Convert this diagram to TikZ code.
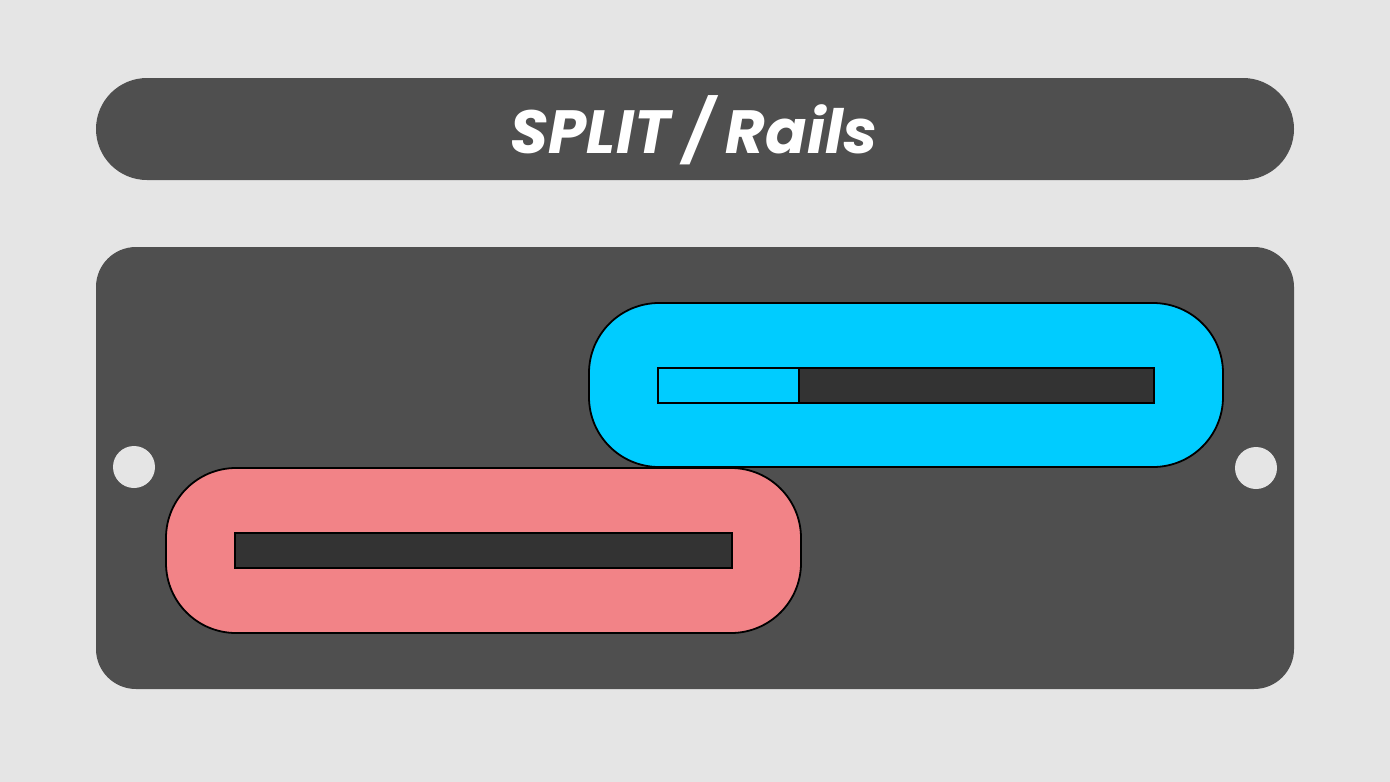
\documentclass[tikz,border=0pt]{standalone}
\usepackage{fontspec}
\setmainfont{Poppins}
\definecolor{bg}{HTML}{E5E5E5}
\definecolor{panel}{HTML}{4F4F4F}
\definecolor{slot}{HTML}{333333}
\definecolor{cyanrail}{HTML}{00CCFF}
\definecolor{redrail}{HTML}{F28387}
\begin{document}
\begin{tikzpicture}[x=1pt,y=-1pt,
  plate/.style={fill=panel,draw=none},
  rail/.style={draw=black,line width=1.8pt},
  slotbar/.style={draw=black,line width=1.8pt,fill=slot},
  hole/.style={fill=bg,draw=none}]
\fill[bg] (0,0) rectangle (1390,782);
\useasboundingbox (0,0) rectangle (1390,782);
% title
\fill[plate,rounded corners=51pt] (96,78) rectangle (1294,180);
\node (title) at (694,130) {\fontsize{61}{64}\selectfont\bfseries\itshape\color{white}SPLIT / Rails};
% panel
\fill[plate,rounded corners=40pt] (96,247) rectangle (1294,689);
\fill[hole] (134,467) circle (21);
\fill[hole] (1256,468) circle (21);
% blue rail
\filldraw[rail,fill=cyanrail,rounded corners=70pt] (589,303) rectangle (1223,467);
\fill[slot] (799,368) rectangle (1154,403);
\draw[line width=1.8pt,fill=cyanrail] (658,368) rectangle (799,403);
\draw[line width=1.8pt] (658,368) rectangle (1154,403);
% red rail
\filldraw[rail,fill=redrail,rounded corners=70pt] (166,468) rectangle (801,633);
\filldraw[slotbar] (235,533) rectangle (732,568);
\end{tikzpicture}
\end{document}
